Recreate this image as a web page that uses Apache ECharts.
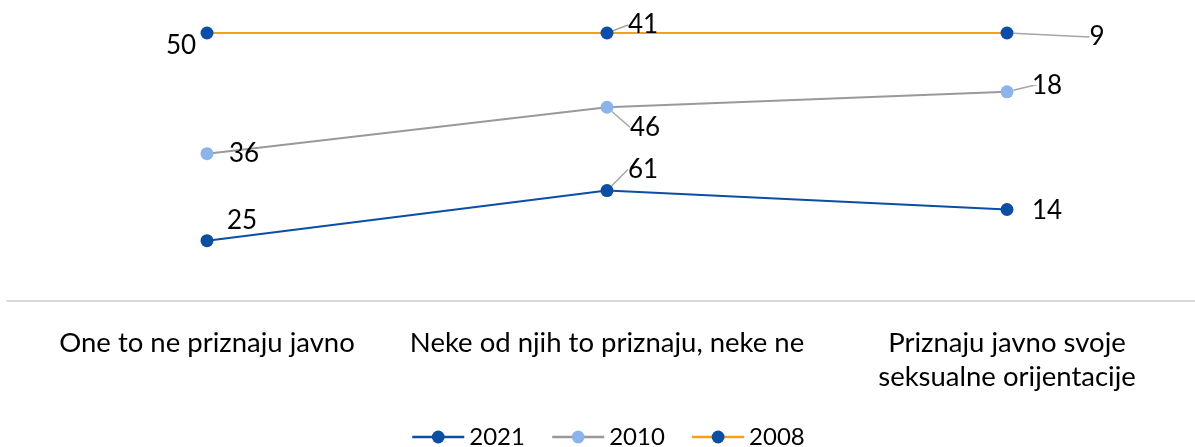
<!DOCTYPE html>
<html>
<head>
<meta charset="utf-8">
<script src="https://cdn.jsdelivr.net/npm/echarts@6/dist/echarts.min.js"></script>
<style>
html,body{margin:0;padding:0;background:#fff;}
#c{width:1195px;height:447px;}
</style>
</head>
<body>
<div id="c"></div>
<script>
const categories = ['One to ne priznaju javno', 'Neke od njih to priznaju, neke ne', 'Priznaju javno svoje\nseksualne orijentacije'];
const seriesNames = ['2021', '2010', '2008'];
const values2021 = [25, 61, 14];
const values2010 = [36, 46, 18];
const values2008 = [50, 41, 9];

const allValues = [values2021, values2010, values2008];
// 100% stacked: share of each series within a category
const totals = categories.map((_, c) => allValues.reduce((s, arr) => s + arr[c], 0));

const FONT = 'Lato, "Open Sans", sans-serif';
const lineColors = ['#0B4EA2', '#999999', '#F5A01A'];
const markerColors = ['#0B4EA2', '#8DB4EA', '#0B4EA2'];
// label offsets (styling): [dx, dy] from point, and whether a leader line is drawn
const labelOffsets = [
  [[35, -20, false], [36, -21, true], [40, 1, false]],
  [[37, 0, false], [38, 20, true], [40, -6, true]],
  [[-26, 13, false], [36, -8, true], [90, 4, true]]
];

const chart = echarts.init(document.getElementById('c'), null, {renderer: 'canvas'});
const series = allValues.map((arr, s) => ({
  name: seriesNames[s],
  type: 'line',
  stack: 'total',
  data: arr.map((v, c) => ({
    value: v / totals[c] * 100,
    labelLine: {show: labelOffsets[s][c][2]}
  })),
  symbol: 'circle',
  symbolSize: 13,
  lineStyle: {color: lineColors[s], width: 2},
  itemStyle: {color: markerColors[s]},
  label: {
    show: true,
    position: 'inside',
    fontFamily: FONT,
    fontSize: 26,
    color: '#000',
    formatter: p => String(arr[p.dataIndex])
  },
  labelLine: {show: true, lineStyle: {color: '#A6A6A6', width: 1.5}},
  labelLayout: p => ({dx: labelOffsets[s][p.dataIndex][0], dy: labelOffsets[s][p.dataIndex][1]}),
  emphasis: {disabled: true},
  z: 3 - s
}));

chart.setOption({
  animation: false,
  grid: {left: 7, width: 1200, top: 33, height: 268, containLabel: false, outerBoundsMode: 'none'},
  legend: {
    top: 420,
    left: 406,
    itemWidth: 52,
    itemHeight: 16,
    itemGap: 26,
    textStyle: {fontFamily: FONT, fontSize: 24, color: '#000'},
    data: seriesNames.map((n, s) => ({name: n, itemStyle: {color: markerColors[s]}, lineStyle: {color: lineColors[s], width: 2.5}}))
  },
  xAxis: {
    type: 'category',
    data: categories,
    boundaryGap: true,
    axisLine: {lineStyle: {color: '#D9D9D9', width: 2}},
    axisTick: {show: false},
    axisLabel: {fontFamily: FONT, fontSize: 27.5, color: '#000', margin: 25, lineHeight: 34, interval: 0}
  },
  yAxis: {
    type: 'value', min: 0, max: 100, show: false,
    splitLine: {show: false}
  },
  series: series
});
</script>
</body>
</html>
